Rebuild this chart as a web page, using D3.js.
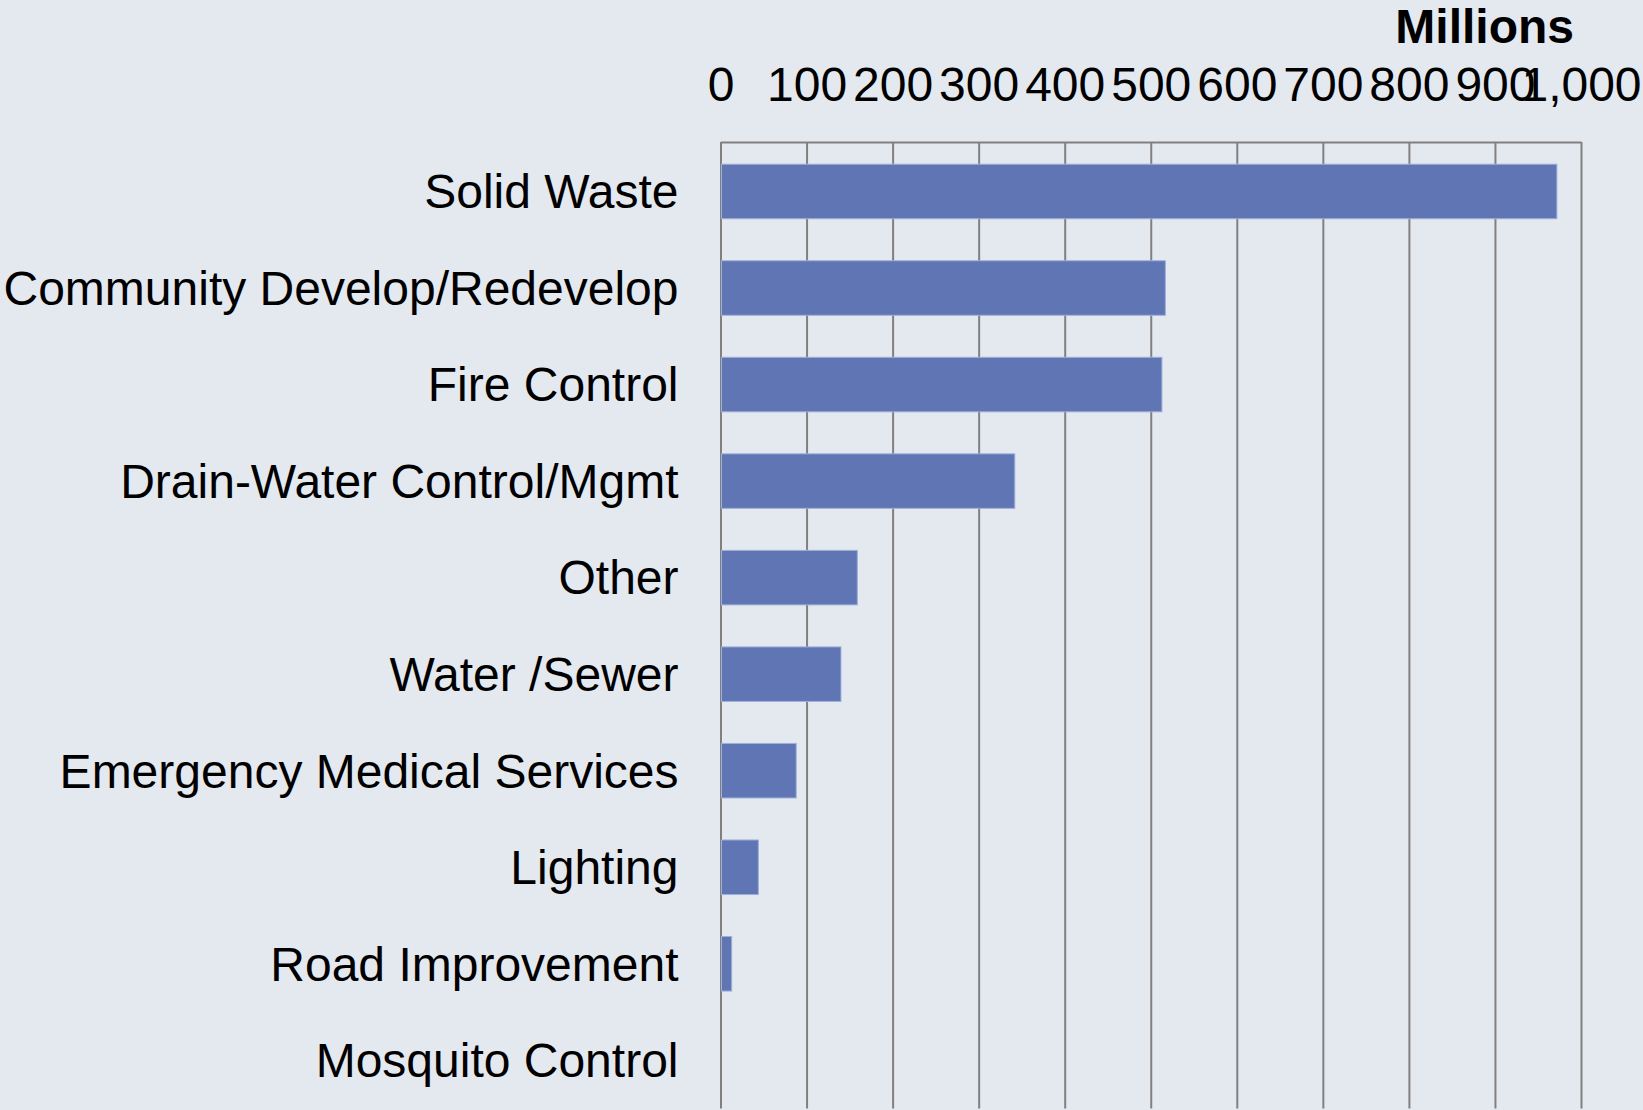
<!DOCTYPE html>
<html>
<head>
<meta charset="utf-8">
<script src="https://cdn.jsdelivr.net/npm/d3@7"></script>
<style>
  html, body { margin: 0; padding: 0; background: #E4E8EF; }
  svg { display: block; }
  text { font-family: "Liberation Sans", Arial, sans-serif; }
</style>
</head>
<body>
<svg id="chart" width="1643" height="1110"></svg>
<script>
// Special district revenue by function (millions)
const categories = [
  "Solid Waste",
  "Community Develop/Redevelop",
  "Fire Control",
  "Drain-Water Control/Mgmt",
  "Other",
  "Water /Sewer",
  "Emergency Medical Services",
  "Lighting",
  "Road Improvement",
  "Mosquito Control"
];
const values = [972, 517, 513, 342, 159, 140, 88, 44, 13, 0];
const tickValues = [0, 100, 200, 300, 400, 500, 600, 700, 800, 900, 1000];
const unitLabel = "Millions";

const W = 1643, H = 1110;
const plot = { left: 720.5, right: 1581, top: 142, bottom: 1108.6 };

const svg = d3.select("#chart");
svg.append("rect").attr("width", W).attr("height", H).attr("fill", "#E4E8EF");

const x = d3.scaleLinear().domain([0, 1000]).range([plot.left, plot.right]);
const y = d3.scaleBand()
  .domain(categories)
  .range([plot.top + 1.2, plot.bottom])
  .paddingInner(0.435)
  .paddingOuter(0.2175);

// Top value axis with vertical gridlines running down the plot
const xAxis = d3.axisTop(x)
  .tickValues(tickValues)
  .tickFormat(d3.format(","))
  .tickSizeInner(-(plot.bottom - plot.top))
  .tickSizeOuter(0)
  .tickPadding(41);

const gx = svg.append("g")
  .attr("transform", `translate(0,${plot.top})`)
  .call(xAxis);
gx.select(".domain").attr("stroke", "#808080").attr("stroke-width", 2.2);
gx.selectAll(".tick line").attr("stroke", "#808080").attr("stroke-width", 2);
gx.selectAll(".tick text")
  .attr("fill", "#000")
  .style("font-size", "48px")
  .style("font-family", "'Liberation Sans', Arial, sans-serif");

// Bars
svg.append("g")
  .selectAll("rect")
  .data(categories.map((c, i) => ({ c, v: values[i] })))
  .join("rect")
  .attr("x", x(0) + 1)
  .attr("y", d => y(d.c))
  .attr("width", d => Math.max(0, x(d.v) - x(0) - 1))
  .attr("height", y.bandwidth())
  .attr("fill", "#6076B4")
  .attr("stroke", d => d.v > 0 ? "#9FB0DA" : "none")
  .attr("stroke-width", 1);

// Category axis
const yAxis = d3.axisLeft(y).tickSize(0).tickPadding(42);
const gy = svg.append("g")
  .attr("transform", `translate(${plot.left},0)`)
  .call(yAxis);
gy.select(".domain").remove();
gy.selectAll(".tick text")
  .attr("fill", "#000")
  .attr("dy", "0.35em")
  .style("font-size", "48px")
  .style("font-family", "'Liberation Sans', Arial, sans-serif");

// Unit label
svg.append("text")
  .attr("x", 1574)
  .attr("y", 43)
  .attr("text-anchor", "end")
  .attr("fill", "#000")
  .style("font-size", "48px")
  .style("font-weight", "bold")
  .text(unitLabel);
</script>
</body>
</html>
